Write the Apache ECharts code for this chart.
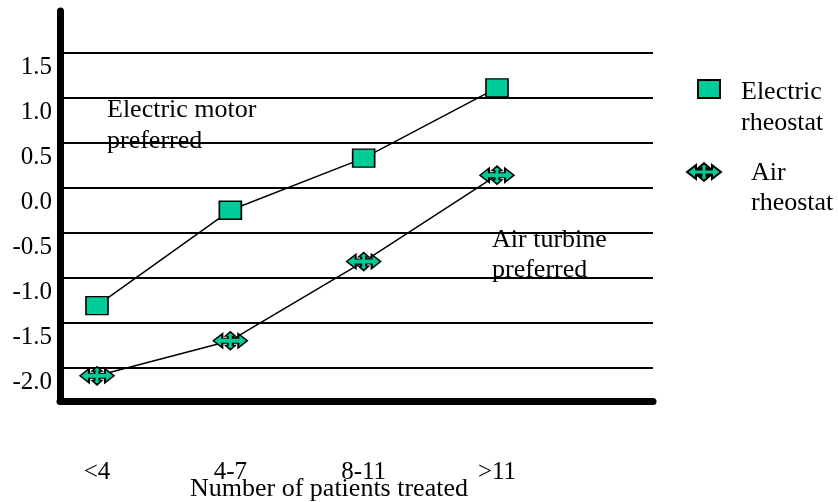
<!DOCTYPE html>
<html>
<head>
<meta charset="utf-8">
<script src="https://cdn.jsdelivr.net/npm/echarts@6/dist/echarts.min.js"></script>
<style>
html,body{margin:0;padding:0;background:#fff;}
#chart{width:838px;height:502px;}
</style>
</head>
<body>
<div id="chart"></div>
<script>
// ---- data ----
var categories = ['<4', '4-7', '8-11', '>11'];
var electricRheostat = [-1.31, -0.25, 0.33, 1.11];
var airRheostat = [-2.09, -1.70, -0.82, 0.14];
var seriesNames = ['Electric rheostat', 'Air rheostat'];
var xAxisTitle = 'Number of patients treated';
var noteElectric = 'Electric motor\npreferred';
var noteAir = 'Air turbine\npreferred';
var yMin = -2.37, yMax = 1.965;

var FONT = 'Liberation Serif, Times New Roman, serif';
var GREEN = '#00CC99';
var moveArrow = 'path://M0,9 L9,2 L9,6.5 L14.5,6.5 L14.5,4.5 L12,4.5 L17,0 L22,4.5 L19.5,4.5 L19.5,6.5 L25,6.5 L25,2 L34,9 L25,16 L25,11.5 L19.5,11.5 L19.5,13.5 L22,13.5 L17,18 L12,13.5 L14.5,13.5 L14.5,11.5 L9,11.5 L9,16 Z';

function legendText(n) {
  var parts = n.split(' ');
  return '{g| }\n{t|' + parts[0] + '}\n{t|' + parts.slice(1).join(' ') + '}';
}

var chart = echarts.init(document.getElementById('chart'), null, {renderer: 'canvas'});

var option = {
  backgroundColor: '#fff',
  animation: false,
  textStyle: {fontFamily: FONT, color: '#000'},
  title: {
    text: xAxisTitle,
    left: 190, top: 476,
    padding: 0,
    textStyle: {fontFamily: FONT, fontSize: 26, fontWeight: 'normal', color: '#000'}
  },
  grid: [
    {left: 60, right: 185, top: 11, bottom: 101},
    {left: 97, right: 341, top: 11, bottom: 101}
  ],
  xAxis: [
    {
      gridIndex: 0, type: 'value', min: 0, max: 1,
      axisLine: {show: true, onZero: false, lineStyle: {color: '#000', width: 7}},
      axisTick: {show: false}, axisLabel: {show: false}, splitLine: {show: false}
    },
    {
      gridIndex: 1, type: 'category', data: categories, boundaryGap: false,
      axisLine: {show: false, onZero: false}, axisTick: {show: false}, splitLine: {show: false},
      axisLabel: {show: true, margin: 59, fontFamily: FONT, fontSize: 25, color: '#000'}
    }
  ],
  yAxis: [
    {
      gridIndex: 0, type: 'value', min: yMin, max: yMax,
      splitNumber: 9, minInterval: 0.5, maxInterval: 0.5,
      axisLine: {show: true, lineStyle: {color: '#000', width: 7}},
      axisTick: {show: false},
      splitLine: {show: true, showMinLine: false, showMaxLine: false, lineStyle: {color: '#000', width: 2}},
      axisLabel: {
        show: true, showMinLabel: false, showMaxLabel: false,
        margin: 8, fontFamily: FONT, fontSize: 25, color: '#000',
        verticalAlign: 'top', lineHeight: 30,
        formatter: function (v) {
          if (Math.abs(v * 2 - Math.round(v * 2)) > 1e-6) return '';
          return (Math.abs(v) < 1e-9 ? 0 : v).toFixed(1);
        }
      }
    },
    {
      gridIndex: 1, type: 'value', min: yMin, max: yMax,
      axisLine: {show: false}, axisTick: {show: false},
      axisLabel: {show: false}, splitLine: {show: false}
    }
  ],
  legend: [
    {
      data: [seriesNames[0]],
      orient: 'vertical', left: 697, top: 45, padding: 0,
      itemWidth: 22, itemHeight: 18, icon: 'rect',
      formatter: legendText,
      textStyle: {
        fontFamily: FONT, fontSize: 26, color: '#000', padding: [0, 0, 0, 16],
        rich: {
          g: {fontFamily: FONT, fontSize: 26, lineHeight: 38},
          t: {fontFamily: FONT, fontSize: 26, lineHeight: 31, color: '#000'}
        }
      }
    },
    {
      data: [seriesNames[1]],
      orient: 'vertical', left: 686, top: 129, padding: 0,
      itemWidth: 34, itemHeight: 18, icon: moveArrow,
      formatter: legendText,
      textStyle: {
        fontFamily: FONT, fontSize: 26, color: '#000', padding: [0, 0, 0, 25],
        rich: {
          g: {fontFamily: FONT, fontSize: 26, lineHeight: 32},
          t: {fontFamily: FONT, fontSize: 26, lineHeight: 30, color: '#000'}
        }
      }
    }
  ],
  graphic: [
    {type: 'text', left: 107, top: 95, z: 1,
      style: {text: noteElectric, fontFamily: FONT, fontSize: 26, lineHeight: 31, fill: '#000'}},
    {type: 'text', left: 492, top: 225, z: 1,
      style: {text: noteAir, fontFamily: FONT, fontSize: 26, lineHeight: 30, fill: '#000'}}
  ],
  series: [
    {
      name: seriesNames[0], type: 'line', xAxisIndex: 1, yAxisIndex: 1,
      data: electricRheostat,
      symbol: 'rect', symbolSize: [22, 18],
      itemStyle: {color: GREEN, borderColor: '#000', borderWidth: 1.5},
      lineStyle: {color: '#000', width: 1.5},
      z: 5
    },
    {
      name: seriesNames[1], type: 'line', xAxisIndex: 1, yAxisIndex: 1,
      data: airRheostat,
      symbol: moveArrow, symbolSize: [34, 18],
      itemStyle: {color: GREEN, borderColor: '#000', borderWidth: 1.5},
      lineStyle: {color: '#000', width: 1.5},
      z: 5
    }
  ]
};
chart.setOption(option);
</script>
</body>
</html>
